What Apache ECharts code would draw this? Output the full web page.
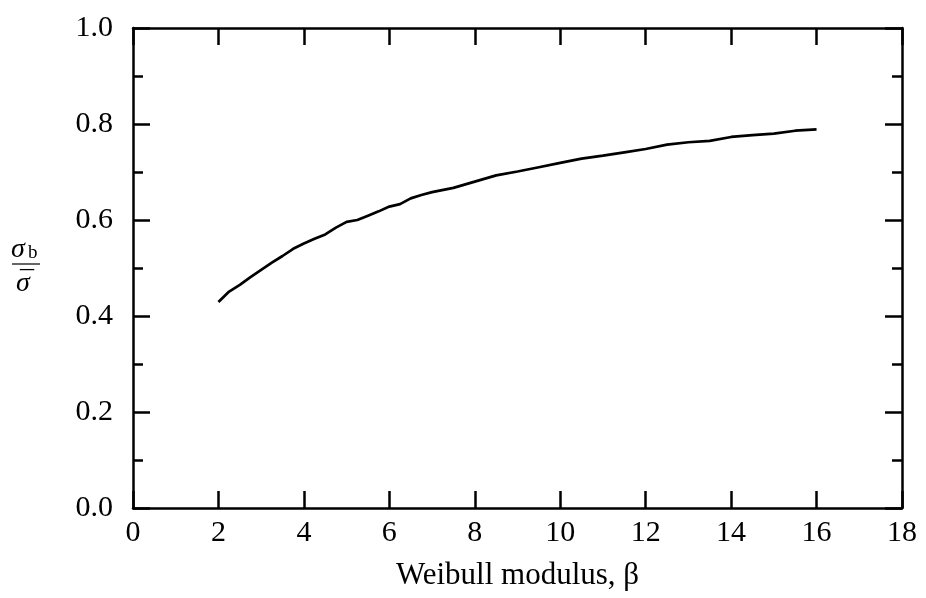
<!DOCTYPE html>
<html>
<head>
<meta charset="utf-8">
<script src="https://cdn.jsdelivr.net/npm/echarts@6/dist/echarts.min.js"></script>
<style>html,body{margin:0;padding:0;background:#fff;}#c{width:926px;height:598px;}</style>
</head>
<body>
<div id="c"></div>
<script>
var betaValues = [2, 2.25, 2.5, 2.75, 3, 3.25, 3.5, 3.75, 4, 4.25, 4.5, 4.75, 5, 5.25, 5.5, 5.75, 6, 6.25, 6.5, 6.75, 7, 7.5, 8, 8.5, 9, 9.5, 10, 10.5, 11, 11.5, 12, 12.5, 13, 13.5, 14, 14.5, 15, 15.5, 16];
var ratioValues = [0.429, 0.451, 0.465, 0.481, 0.496, 0.511, 0.525, 0.540, 0.551, 0.561, 0.570, 0.584, 0.596, 0.600, 0.609, 0.618, 0.628, 0.633, 0.645, 0.652, 0.658, 0.667, 0.680, 0.693, 0.701, 0.710, 0.719, 0.728, 0.734, 0.741, 0.748, 0.757, 0.762, 0.765, 0.773, 0.777, 0.780, 0.786, 0.789];
var xTitle = 'Weibull modulus, β';

var font = '"Liberation Serif", "Times New Roman", serif';
var seriesData = betaValues.map(function (b, i) { return [b, ratioValues[i]]; });
var lineStyle = { color: '#000', width: 2.5 };

var chart = echarts.init(document.getElementById('c'), null, { renderer: 'canvas' });
chart.setOption({
  animation: false,
  backgroundColor: '#fff',
  grid: { left: 133, right: 24, top: 28, bottom: 90, containLabel: false },
  xAxis: [{
    type: 'value', min: 0, max: 18, interval: 2, position: 'bottom',
    name: xTitle, nameLocation: 'middle', nameGap: 52,
    nameTextStyle: { fontFamily: font, fontSize: 31, color: '#000' },
    axisLine: { onZero: false, lineStyle: lineStyle },
    axisTick: { inside: true, length: 17, lineStyle: lineStyle },
    axisLabel: { fontFamily: font, fontSize: 30, color: '#000', margin: 10 },
    splitLine: { show: false }
  }, {
    type: 'value', min: 0, max: 18, interval: 2, position: 'top',
    axisLine: { onZero: false, lineStyle: lineStyle },
    axisTick: { inside: true, length: 17, lineStyle: lineStyle },
    axisLabel: { show: false },
    splitLine: { show: false }
  }],
  yAxis: [{
    type: 'value', min: 0, max: 1, interval: 0.2, position: 'left',
    axisLine: { onZero: false, lineStyle: lineStyle },
    axisTick: { inside: true, length: 17, lineStyle: lineStyle },
    minorTick: { show: true, splitNumber: 2, length: 10, lineStyle: lineStyle },
    axisLabel: { fontFamily: font, fontSize: 30, color: '#000', margin: 20, formatter: function (v) { return v.toFixed(1); } },
    splitLine: { show: false }
  }, {
    type: 'value', min: 0, max: 1, interval: 0.2, position: 'right',
    axisLine: { onZero: false, lineStyle: lineStyle },
    axisTick: { inside: true, length: 17, lineStyle: lineStyle },
    minorTick: { show: true, splitNumber: 2, length: 10, lineStyle: lineStyle },
    axisLabel: { show: false },
    splitLine: { show: false }
  }],
  graphic: [
    { type: 'text', left: 11, top: 236, style: { text: 'σ', font: 'italic 28px ' + font, fill: '#000' } },
    { type: 'text', left: 28, top: 244, style: { text: 'b', font: '19px ' + font, fill: '#000' } },
    { type: 'line', shape: { x1: 12, y1: 264, x2: 40, y2: 264 }, style: { stroke: '#000', lineWidth: 1.2 } },
    { type: 'text', left: 16, top: 270, style: { text: 'σ', font: 'italic 28px ' + font, fill: '#000' } },
    { type: 'text', left: 20, top: 269, style: { text: '¯', font: '28px ' + font, fill: '#000' } }
  ],
  series: [{
    type: 'line', xAxisIndex: 0, yAxisIndex: 0,
    data: seriesData, showSymbol: false, smooth: false,
    lineStyle: { color: '#000', width: 2.7 }
  }]
});
</script>
</body>
</html>
